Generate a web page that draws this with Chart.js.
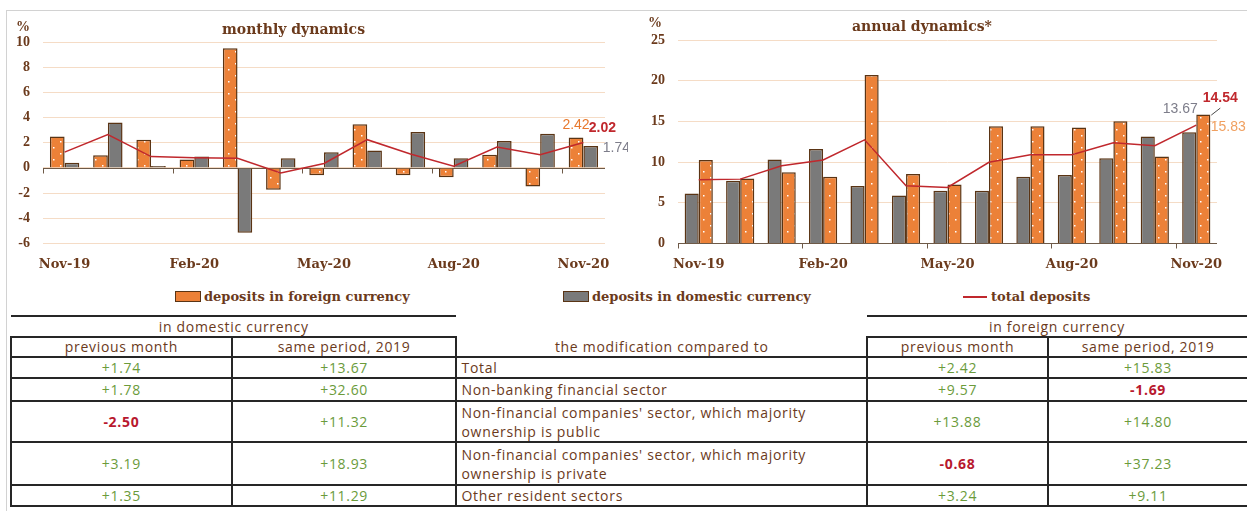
<!DOCTYPE html>
<html>
<head>
<meta charset="utf-8">
<script src="https://cdn.jsdelivr.net/npm/chart.js@4.4.0/dist/chart.umd.min.js"></script>
<style>
  html, body { margin: 0; padding: 0; background: #fff; }
  body { width: 1247px; height: 511px; position: relative; overflow: hidden; }
  #frame { position: absolute; left: 6px; top: 10px; width: 1250px; height: 510px;
           border-top: 1px solid #d2d2d2; border-left: 1px solid #d2d2d2; }
  .wrap { position: absolute; top: 12px; height: 272px; }
  #w1 { left: 8px; width: 620px; }
  #w2 { left: 630px; width: 617px; }
  .txt { position: absolute; color: #6b3a1c; font: bold 14px "DejaVu Serif", serif; white-space: nowrap; }
  .pct { position: absolute; color: #6b3a1c; font: bold 14px "Liberation Serif", serif; }
  .legend { position: absolute; top: 289px; color: #6b3a1c; font: bold 13px "DejaVu Serif", serif;
            white-space: nowrap; display: flex; align-items: center; }
  .swatch { display: inline-block; width: 24px; height: 9px; border: 1px solid #5a3414; margin-right: 3px; }
  .redline { display: inline-block; width: 24px; height: 2px; background: #c0282d; margin-right: 4px; }
  table { position: absolute; left: 10px; top: 315px; border-collapse: collapse; table-layout: fixed;
          font: 14px "Open Sans", Lato, sans-serif; letter-spacing: 0.7px; color: #6b3a1c; }
  td { padding: 0 4px; text-align: center; line-height: 16px; border: 2px solid #262626; }
  td.sec { text-align: left; line-height: 19px; }
  td.nb { border: none; }
  .pos { color: #6b9b3b; }
  .neg { color: #b8182e; font-weight: bold; }
</style>
</head>
<body>
<div id="frame"></div>
<div class="wrap" id="w1"><canvas id="monthly"></canvas></div>
<div class="wrap" id="w2"><canvas id="annual"></canvas></div>
<div class="pct" style="left:16px;top:19px;">%</div>
<div class="txt" style="left:222px;top:21px;">monthly dynamics</div>
<div class="pct" style="left:648px;top:15px;">%</div>
<div class="txt" style="left:852px;top:18px;">annual dynamics*</div>
<div id="legend"></div>
<table id="tbl"></table>

<script>
const months = ['Nov-19', 'Dec-19', 'Jan-20', 'Feb-20', 'Mar-20', 'Apr-20', 'May-20',
                'Jun-20', 'Jul-20', 'Aug-20', 'Sep-20', 'Oct-20', 'Nov-20'];

const seriesNames = ['deposits in foreign currency', 'deposits in domestic currency', 'total deposits'];

// monthly dynamics, %
const monthlyForeign  = [2.50, 1.00, 2.24, 0.66, 9.50, -1.74, -0.59, 3.46, -0.59, -0.75, 1.04, -1.47, 2.42];
const monthlyDomestic = [0.40, 3.60, 0.15, 0.90, -5.15, 0.77, 1.25, 1.38, 2.85, 0.77, 2.13, 2.72, 1.74];
const monthlyTotal    = [1.25, 2.64, 0.90, 0.80, 0.77, -0.40, 0.35, 2.24, 1.10, 0.13, 1.65, 1.04, 2.02];

// annual dynamics, %
const annualDomestic = [6.13, 7.70, 10.30, 11.60, 7.04, 5.88, 6.46, 6.46, 8.20, 8.40, 10.46, 13.14, 13.67];
const annualForeign  = [10.26, 7.98, 8.73, 8.20, 20.70, 8.53, 7.25, 14.40, 14.40, 14.25, 15.00, 10.67, 15.83];
const annualTotal    = [7.82, 7.90, 9.55, 10.26, 12.73, 7.08, 6.87, 9.97, 10.90, 10.90, 12.36, 12.00, 14.54];

const monthlyTicks = { min: -6, max: 10, step: 2 };
const annualTicks = { min: 0, max: 25, step: 5 };

// table
const sectors = ['Total', 'Non-banking financial sector',
  "Non-financial companies' sector, which majority ownership is public",
  "Non-financial companies' sector, which majority ownership is private",
  'Other resident sectors'];
const domPrevMonth = ['+1.74', '+1.78', '-2.50', '+3.19', '+1.35'];
const domSamePeriod = ['+13.67', '+32.60', '+11.32', '+18.93', '+11.29'];
const forPrevMonth = ['+2.42', '+9.57', '+13.88', '-0.68', '+3.24'];
const forSamePeriod = ['+15.83', '-1.69', '+14.80', '+37.23', '+9.11'];

const ORANGE = '#ec8138';
const GREY = '#7a7a7a';
const RED = '#c0282d';
const EDGE = '#5a3414';
const BROWN = '#6b3a1c';

function dotPattern() {
  const c = document.createElement('canvas');
  c.width = 14; c.height = 12;
  const g = c.getContext('2d');
  g.fillStyle = ORANGE;
  g.fillRect(0, 0, 14, 12);
  g.fillStyle = '#fff';
  g.fillRect(3, 3, 1.5, 1.5);
  g.fillRect(10, 9, 1.5, 1.5);
  return g.createPattern(c, 'repeat');
}
const orangeFill = dotPattern();

// axis line at zero with ticks every third category
const zeroAxis = {
  id: 'zeroAxis',
  beforeDatasetsDraw(chart) {
    const x = chart.scales.x, y = chart.scales.y, ctx = chart.ctx;
    const y0 = Math.round(y.getPixelForValue(0)) + 0.5;
    const half = (x.getPixelForValue(1) - x.getPixelForValue(0)) / 2;
    ctx.save();
    ctx.strokeStyle = '#6e5a48';
    ctx.lineWidth = 1;
    ctx.beginPath();
    ctx.moveTo(x.left, y0);
    ctx.lineTo(x.right, y0);
    for (let i = 0; i < months.length; i += 3) {
      const px = Math.round(x.getPixelForValue(i) - half) + 0.5;
      ctx.moveTo(px, y0);
      ctx.lineTo(px, y0 + 5);
    }
    ctx.stroke();
    ctx.restore();
  }
};

// value labels for the last month
const lastLabels = {
  id: 'lastLabels',
  afterDatasetsDraw(chart, args, opts) {
    const ctx = chart.ctx;
    ctx.save();
    ctx.textBaseline = 'middle';
    opts.items.forEach(it => {
      const meta = chart.getDatasetMeta(it.ds);
      const n = meta.data.length - 1;
      const el = meta.data[n];
      const v = chart.data.datasets[it.ds].data[n];
      ctx.font = (it.bold ? 'bold ' : '') + '14px "Liberation Sans Narrow", "Liberation Sans", sans-serif';
      ctx.fillStyle = it.color;
      ctx.textAlign = it.align || 'center';
      ctx.fillText(v.toFixed(2), el.x + it.dx, el.y + it.dy);
      if (it.leader) {
        ctx.strokeStyle = '#4a4a4a';
        ctx.lineWidth = 1;
        ctx.beginPath();
        ctx.moveTo(el.x + 15, el.y - 10);
        ctx.lineTo(el.x + 24, el.y - 17);
        ctx.stroke();
      }
    });
    ctx.restore();
  }
};

const xFont = { family: '"DejaVu Serif", serif', size: 13, weight: 'bold' };
const yFont = { family: '"Liberation Serif", serif', size: 14, weight: 'bold' };

function makeChart(id, bars, total, ticks, yWidth, padding, labelItems) {
  return new Chart(document.getElementById(id), {
    type: 'bar',
    data: {
      labels: months,
      datasets: bars.map(b => ({
        type: 'bar', label: b.label, data: b.data, order: 1,
        backgroundColor: b.fill, borderColor: EDGE, borderWidth: 1.5,
        categoryPercentage: 0.68, barPercentage: 1
      })).concat([{
        type: 'line', label: seriesNames[2], data: total, order: 0,
        borderColor: RED, borderWidth: 1.5, pointRadius: 0, tension: 0, fill: false
      }])
    },
    options: {
      responsive: true,
      maintainAspectRatio: false,
      animation: false,
      layout: { padding },
      plugins: { legend: { display: false }, tooltip: { enabled: false }, lastLabels: { items: labelItems } },
      scales: {
        x: {
          grid: { display: false },
          border: { display: false },
          ticks: {
            autoSkip: false, maxRotation: 0, padding: 5, color: BROWN, font: xFont,
            callback: (v, i) => (i % 3 === 0 ? months[i] : '')
          }
        },
        y: {
          min: ticks.min, max: ticks.max,
          afterFit: s => { s.width = yWidth; },
          grid: { color: '#f5dcc6', drawTicks: false },
          border: { display: false },
          ticks: { stepSize: ticks.step, padding: 13, color: BROWN, font: yFont }
        }
      }
    },
    plugins: [zeroAxis, lastLabels]
  });
}

makeChart('monthly',
  [{ label: seriesNames[0], data: monthlyForeign, fill: orangeFill },
   { label: seriesNames[1], data: monthlyDomestic, fill: GREY }],
  monthlyTotal, monthlyTicks, 35, { top: 30, right: 23, bottom: 7, left: 0 },
  [{ ds: 0, color: '#e8792e', dx: 0, dy: -12 },
   { ds: 2, color: RED, dx: 19, dy: -14, bold: true },
   { ds: 1, color: '#7d7d8a', dx: 12, dy: 2, align: 'left' }]);

makeChart('annual',
  [{ label: seriesNames[1], data: annualDomestic, fill: GREY },
   { label: seriesNames[0], data: annualForeign, fill: orangeFill }],
  annualTotal, annualTicks, 48, { top: 28, right: 30, bottom: 7, left: 0 },
  [{ ds: 0, color: '#7d7d8a', dx: -9, dy: -23 },
   { ds: 2, color: RED, dx: 24, dy: -27, bold: true, leader: true },
   { ds: 1, color: '#f0a060', dx: 25, dy: 13 }]);

// legend
const legend = document.getElementById('legend');
const legendLeft = [175, 563, 963];
seriesNames.forEach((name, i) => {
  const item = document.createElement('div');
  item.className = 'legend';
  item.style.left = legendLeft[i] + 'px';
  const mark = document.createElement('span');
  if (i === 0) { mark.className = 'swatch'; mark.style.background = ORANGE; }
  else if (i === 1) { mark.className = 'swatch'; mark.style.background = GREY; }
  else mark.className = 'redline';
  item.appendChild(mark);
  item.appendChild(document.createTextNode(name));
  legend.appendChild(item);
});

// table
const tbl = document.getElementById('tbl');
const colW = [222, 226, 413, 182, 200];
const rowH = [21, 20, 20, 23, 41, 43, 20];
const cg = document.createElement('colgroup');
colW.forEach(w => { const c = document.createElement('col'); c.style.width = w + 'px'; cg.appendChild(c); });
tbl.appendChild(cg);

function addRow(h, cells) {
  const tr = document.createElement('tr');
  tr.style.height = h + 'px';
  cells.forEach(c => {
    const td = document.createElement('td');
    td.textContent = c.text;
    if (c.span) td.colSpan = c.span;
    if (c.cls) td.className = c.cls;
    if (c.style) Object.assign(td.style, c.style);
    tr.appendChild(td);
  });
  tbl.appendChild(tr);
}
const cls = s => (s.startsWith('-') ? 'neg' : 'pos');

addRow(rowH[0], [
  { text: 'in domestic currency', span: 2, style: { borderLeft: 'none', borderRight: 'none' } },
  { text: '', cls: 'nb' },
  { text: 'in foreign currency', span: 2, style: { borderLeft: 'none', borderRight: 'none' } }
]);
addRow(rowH[1], [
  { text: 'previous month' }, { text: 'same period, 2019' },
  { text: 'the modification compared to', style: { borderTop: 'none' } },
  { text: 'previous month' }, { text: 'same period, 2019', style: { borderRight: 'none' } }
]);
sectors.forEach((s, i) => {
  addRow(rowH[i + 2], [
    { text: domPrevMonth[i], cls: cls(domPrevMonth[i]) },
    { text: domSamePeriod[i], cls: cls(domSamePeriod[i]) },
    { text: s, cls: 'sec' },
    { text: forPrevMonth[i], cls: cls(forPrevMonth[i]) },
    { text: forSamePeriod[i], cls: cls(forSamePeriod[i]), style: { borderRight: 'none' } }
  ]);
});
</script>
</body>
</html>
